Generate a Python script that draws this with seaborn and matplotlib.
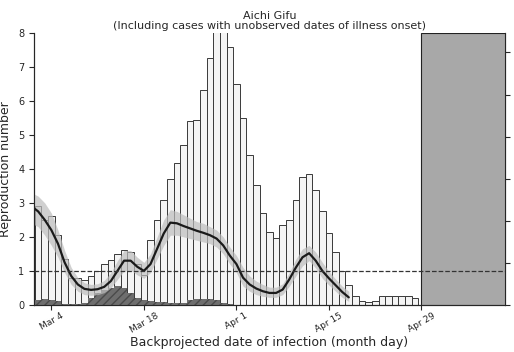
import numpy as np
import pandas as pd
import seaborn as sns
import matplotlib.pyplot as plt

# dias contados a partir de 1 de março
barras_casos = [10.5, 11.7, 10.1, 10.5, 8.3, 5.5, 3.2, 3.2, 3.0, 3.4,
                4.0, 4.8, 5.3, 6.1, 6.5, 6.3, 4.8, 3.6, 7.7, 10.1,
                12.5, 15.0, 16.8, 19.0, 21.8, 22.0, 25.5, 29.3, 34.0, 34.0,
                30.7, 26.3, 22.2, 17.8, 14.3, 10.9, 8.7, 7.9, 9.5, 10.1,
                12.5, 15.2, 15.6, 13.7, 11.1, 8.5, 6.3, 4.0, 2.3, 1.1,
                0.4, 0.3, 0.5, 1.0, 1.1, 1.1, 1.1, 1.05, 0.8]
area_escura = [0.5, 0.6, 0.7, 0.6, 0.4, 0.1, 0.1, 0.1, 0.2, 0.8,
               1.4, 1.8, 2.0, 2.2, 2.0, 1.4, 0.8, 0.6, 0.4, 0.3,
               0.3, 0.25, 0.25, 0.25, 0.6, 0.7, 0.7, 0.7, 0.6, 0.2,
               0.1, 0.0]
rt = [2.9, 2.75, 2.5, 2.2, 1.8, 1.25, 0.85, 0.6, 0.47, 0.44,
      0.46, 0.53, 0.7, 1.0, 1.3, 1.3, 1.12, 1.0, 1.2, 1.65,
      2.1, 2.42, 2.4, 2.32, 2.25, 2.18, 2.12, 2.05, 1.95, 1.75,
      1.45, 1.2, 0.8, 0.6, 0.48, 0.4, 0.35, 0.35, 0.45, 0.75,
      1.1, 1.4, 1.52, 1.3, 1.0, 0.78, 0.58, 0.38, 0.22]
rt_sup = [3.3, 3.2, 3.0, 2.7, 2.2, 1.6, 1.1, 0.8, 0.65, 0.6,
          0.62, 0.72, 0.95, 1.3, 1.6, 1.6, 1.4, 1.25, 1.5, 2.0,
          2.5, 2.8, 2.75, 2.65, 2.55, 2.45, 2.4, 2.3, 2.2, 2.0,
          1.7, 1.45, 1.1, 0.85, 0.7, 0.6, 0.52, 0.52, 0.62, 0.95,
          1.35, 1.65, 1.75, 1.55, 1.25, 0.98, 0.76, 0.55, 0.4]
rt_inf = [2.4, 2.3, 2.05, 1.75, 1.4, 0.95, 0.6, 0.4, 0.3, 0.28,
          0.3, 0.36, 0.5, 0.75, 1.0, 1.02, 0.88, 0.78, 0.95, 1.35,
          1.75, 2.05, 2.05, 2.0, 1.95, 1.9, 1.85, 1.8, 1.7, 1.5,
          1.2, 0.95, 0.55, 0.4, 0.3, 0.25, 0.22, 0.22, 0.3, 0.55,
          0.85, 1.15, 1.3, 1.08, 0.78, 0.58, 0.4, 0.22, 0.1]
posicoes_ticks = [3, 17, 31, 45, 59]
rotulos_ticks = ['Mar 4', 'Mar 18', 'Apr 1', 'Apr 15', 'Apr 29']
inicio_sombra = 59

df_barras = pd.DataFrame({'dia': np.arange(len(barras_casos)), 'casos': barras_casos})
df_rt = pd.DataFrame({'dia': np.arange(len(rt)), 'rt': rt, 'sup': rt_sup, 'inf': rt_inf})
dias_escura = np.arange(len(area_escura))

sns.set_style('ticks')
plt.rcParams['font.family'] = ['DejaVu Sans']

fig = plt.figure(figsize=(5.14, 3.52), dpi=100)
ax = fig.add_axes([0.066, 0.134, 0.916, 0.772])
ax2 = ax.twinx()

# barras (eixo da direita)
sns.barplot(x='dia', y='casos', data=df_barras, native_scale=True, width=1.0,
            color='#f4f4f4', edgecolor='#3a3a3a', linewidth=0.7,
            errorbar=None, ax=ax2)
ax2.fill_between(dias_escura, 0, area_escura, step='mid', color='#6e6e6e',
                 hatch='////', edgecolor='#4a4a4a', linewidth=0, zorder=3)
ax2.set_ylim(0, 32.3)
ax2.set_yticks([0, 5, 10, 15, 20, 25, 30])
ax2.set_yticklabels([])
ax2.set_ylabel('')
ax2.set_xlabel('')

# Rt no eixo da esquerda, desenhado por cima
ax.set_zorder(ax2.get_zorder() + 1)
ax.patch.set_visible(False)
ax.fill_between(df_rt['dia'], df_rt['inf'], df_rt['sup'], color='#bdbdbd', alpha=0.7, linewidth=0)
sns.lineplot(x='dia', y='rt', data=df_rt, color='#1a1a1a', linewidth=1.6, ax=ax)
ax.axvspan(inicio_sombra, 72, facecolor='#a8a8a8', edgecolor='#222222', linewidth=0.8)
ax.axhline(1, color='#333333', linestyle='--', linewidth=0.9)

ax.set_xlim(0.36, 71.6)
ax.set_ylim(0, 8)
ax.set_yticks(range(0, 9))
ax.set_xticks(posicoes_ticks)
ax.set_xticklabels(rotulos_ticks, rotation=30, ha='center', fontsize=6.5)
ax.tick_params(axis='x', pad=1)
ax.tick_params(axis='y', labelsize=7)
ax.set_ylabel('Reproduction number', fontsize=9)
ax.set_xlabel('Backprojected date of infection (month day)', fontsize=9, labelpad=1)
ax.set_title('Aichi Gifu\n(Including cases with unobserved dates of illness onset)',
             fontsize=8, linespacing=1.0, pad=3)

for a in (ax, ax2):
    a.spines['top'].set_visible(False)

plt.savefig('out.png', dpi=100)
